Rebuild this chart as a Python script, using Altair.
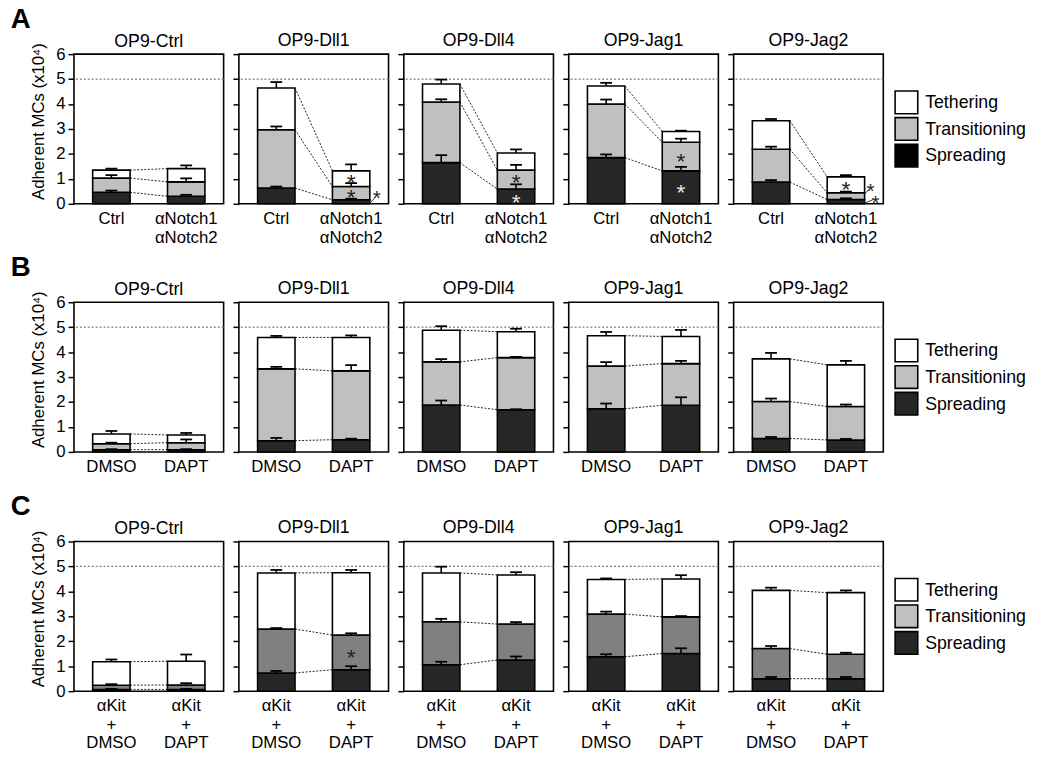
import altair as alt
import pandas as pd

FONT = "Liberation Sans"
PANELS = ["OP9-Ctrl", "OP9-Dll1", "OP9-Dll4", "OP9-Jag1", "OP9-Jag2"]
STAGES = ["Tethering", "Transitioning", "Spreading"]
Y_TITLE = "Adherent MCs (x10⁴)"
Y_TICKS = [0, 1, 2, 3, 4, 5, 6]
THRESHOLD = [5]

A_CONDS = ["Ctrl", "αNotch1|αNotch2"]
B_CONDS = ["DMSO", "DAPT"]
C_CONDS = ["αKit|+|DMSO", "αKit|+|DAPT"]

# cumulative segment tops (x10^4) per panel: [condition 1, condition 2]
A_SPREAD = [[0.46, 0.30], [0.63, 0.16], [1.65, 0.59], [1.85, 1.32], [0.87, 0.17]]
A_SPREAD_ERR = [[0.53, 0.36], [0.69, 0.20], [1.95, 0.78], [1.98, 1.48], [0.95, 0.22]]
A_TRANS = [[1.03, 0.88], [2.97, 0.69], [4.08, 1.35], [4.00, 2.47], [2.19, 0.44]]
A_TRANS_ERR = [[1.15, 1.02], [3.10, 0.83], [4.19, 1.56], [4.18, 2.61], [2.29, 0.49]]
A_TETHER = [[1.35, 1.41], [4.64, 1.32], [4.80, 2.04], [4.72, 2.90], [3.33, 1.08]]
A_TETHER_ERR = [[1.41, 1.54], [4.88, 1.58], [4.98, 2.18], [4.85, 2.93], [3.40, 1.15]]

B_SPREAD = [[0.09, 0.09], [0.45, 0.49], [1.88, 1.69], [1.73, 1.87], [0.54, 0.48]]
B_SPREAD_ERR = [[0.11, 0.11], [0.56, 0.53], [2.06, 1.71], [1.94, 2.19], [0.60, 0.52]]
B_TRANS = [[0.33, 0.37], [3.33, 3.25], [3.61, 3.78], [3.44, 3.54], [2.02, 1.82]]
B_TRANS_ERR = [[0.37, 0.50], [3.41, 3.48], [3.72, 3.81], [3.60, 3.65], [2.14, 1.90]]
B_TETHER = [[0.72, 0.68], [4.59, 4.59], [4.88, 4.82], [4.66, 4.63], [3.73, 3.49]]
B_TETHER_ERR = [[0.84, 0.76], [4.65, 4.67], [5.04, 4.94], [4.81, 4.89], [3.97, 3.65]]

C_SPREAD = [[0.07, 0.07], [0.73, 0.86], [1.06, 1.25], [1.38, 1.51], [0.50, 0.50]]
C_SPREAD_ERR = [[0.09, 0.09], [0.81, 1.00], [1.18, 1.39], [1.48, 1.72], [0.57, 0.57]]
C_TRANS = [[0.24, 0.25], [2.49, 2.25], [2.78, 2.69], [3.09, 2.98], [1.71, 1.48]]
C_TRANS_ERR = [[0.28, 0.32], [2.53, 2.32], [2.90, 2.77], [3.19, 3.01], [1.81, 1.54]]
C_TETHER = [[1.18, 1.20], [4.74, 4.75], [4.74, 4.66], [4.48, 4.50], [4.04, 3.95]]
C_TETHER_ERR = [[1.27, 1.47], [4.86, 4.86], [4.99, 4.77], [4.52, 4.65], [4.15, 4.04]]

# significance asterisks inside the second bar
A_STAR_PANEL = [1, 1, 2, 2, 3, 3, 4]
A_STAR_Y = [1.08, 0.47, 1.06, 0.27, 1.90, 0.65, 0.78]
A_STAR_SHADE = ["#222222", "#222222", "#222222", "#e8e8e8", "#222222", "#e8e8e8", "#222222"]
# asterisks outside the second bar, with leader lines
A_OUT_PANEL = [1, 4, 4]
A_OUT_Y = [0.42, 0.72, 0.22]
A_OUT_DX = [7, 6, 11]
A_LEAD_Y0 = [0.02, 0.39, 0.03]
A_LEAD_Y1 = [0.24, 0.56, 0.17]

C_STAR_PANEL = [1]
C_STAR_Y = [1.56]
C_STAR_SHADE = ["#222222"]

LEGEND_Y_RANGE = [49, 103]

ROWS = [
    dict(letter="A", conds=A_CONDS, spread=A_SPREAD, spread_err=A_SPREAD_ERR,
         trans=A_TRANS, trans_err=A_TRANS_ERR, tether=A_TETHER, tether_err=A_TETHER_ERR,
         bar_colors={"Spreading": "#262626", "Transitioning": "#c0c0c0", "Tethering": "#ffffff"},
         legend_colors=["#ffffff", "#c0c0c0", "#000000"],
         star_panel=A_STAR_PANEL, star_y=A_STAR_Y, star_shade=A_STAR_SHADE,
         out_panel=A_OUT_PANEL, out_y=A_OUT_Y, out_dx=A_OUT_DX, lead0=A_LEAD_Y0, lead1=A_LEAD_Y1,
         line_h=19),
    dict(letter="B", conds=B_CONDS, spread=B_SPREAD, spread_err=B_SPREAD_ERR,
         trans=B_TRANS, trans_err=B_TRANS_ERR, tether=B_TETHER, tether_err=B_TETHER_ERR,
         bar_colors={"Spreading": "#262626", "Transitioning": "#c0c0c0", "Tethering": "#ffffff"},
         legend_colors=["#ffffff", "#c0c0c0", "#262626"],
         star_panel=[], star_y=[], star_shade=[],
         out_panel=[], out_y=[], out_dx=[], lead0=[], lead1=[], line_h=19),
    dict(letter="C", conds=C_CONDS, spread=C_SPREAD, spread_err=C_SPREAD_ERR,
         trans=C_TRANS, trans_err=C_TRANS_ERR, tether=C_TETHER, tether_err=C_TETHER_ERR,
         bar_colors={"Spreading": "#262626", "Transitioning": "#808080", "Tethering": "#ffffff"},
         legend_colors=["#ffffff", "#c0c0c0", "#262626"],
         star_panel=C_STAR_PANEL, star_y=C_STAR_Y, star_shade=C_STAR_SHADE,
         out_panel=[], out_y=[], out_dx=[], lead0=[], lead1=[], line_h=18.5),
]

W = 152
H = 152


def make_panel(row, p):
    conds = row["conds"]
    first = p == 0
    seg_rows = []
    for c, cond in enumerate(conds):
        levels = [0, row["spread"][p][c], row["trans"][p][c], row["tether"][p][c]]
        errs = [row["spread_err"][p][c], row["trans_err"][p][c], row["tether_err"][p][c]]
        for k, stage in enumerate(["Spreading", "Transitioning", "Tethering"]):
            seg_rows.append(dict(cond=cond, stage=stage, y0=levels[k], y1=levels[k + 1],
                                 err=errs[k], fill=row["bar_colors"][stage]))
    seg = pd.DataFrame(seg_rows)
    con = pd.DataFrame({
        "c1": [conds[0]] * 3, "c2": [conds[1]] * 3,
        "v1": [row["spread"][p][0], row["trans"][p][0], row["tether"][p][0]],
        "v2": [row["spread"][p][1], row["trans"][p][1], row["tether"][p][1]],
    })

    xs = alt.Scale(domain=conds, paddingInner=0.5, paddingOuter=0.25)
    ys = alt.Scale(domain=[0, 6], nice=False)
    xa = alt.Axis(title=None, labelAngle=0, labelExpr="split(datum.label, '|')", ticks=False,
                  domain=False, labelPadding=7, labelFontSize=17, labelLineHeight=row["line_h"],
                  labelBaseline="top")
    if first:
        ya = alt.Axis(title=Y_TITLE, values=Y_TICKS, tickSize=6, tickWidth=1.5, labelFontSize=17,
                      labelPadding=3, titleFontSize=17, titleFontWeight="normal", titlePadding=8,
                      titleY=68, domain=False, grid=False)
    else:
        ya = alt.Axis(title=None, values=Y_TICKS, tickSize=6, tickWidth=1.5, labels=False,
                      domain=False, grid=False)

    def X(field, bp=None):
        if bp is None:
            return alt.X(f"{field}:N", scale=xs, axis=xa)
        return alt.X(f"{field}:N", scale=xs, axis=xa, bandPosition=bp)

    def Y(field):
        return alt.Y(f"{field}:Q", scale=ys, axis=ya)

    layers = []
    layers.append(alt.Chart(pd.DataFrame({"v": THRESHOLD})).mark_rule(
        strokeDash=[2, 2], color="#7a7a7a", strokeWidth=1.3).encode(y=Y("v")))
    layers.append(alt.Chart(con).mark_rule(strokeDash=[2, 1.6], color="#222222", strokeWidth=1).encode(
        x=X("c1", 1), x2=alt.X2(field="c2", bandPosition=0), y=Y("v1"), y2=alt.Y2(field="v2")))
    layers.append(alt.Chart(seg).mark_bar(stroke="black", strokeWidth=1.6).encode(
        x=X("cond"), y=Y("y0"), y2=alt.Y2(field="y1"), fill=alt.Fill("fill:N", scale=None)))
    layers.append(alt.Chart(seg).mark_rule(color="black", strokeWidth=1.6).encode(
        x=X("cond"), y=Y("y1"), y2=alt.Y2(field="err")))
    layers.append(alt.Chart(seg).mark_tick(color="black", size=12, thickness=1.8, opacity=1).encode(
        x=X("cond"), y=Y("err")))

    sy = [y for pp, y in zip(row["star_panel"], row["star_y"]) if pp == p]
    sc = [s for pp, s in zip(row["star_panel"], row["star_shade"]) if pp == p]
    if sy:
        sdf = pd.DataFrame({"cond": [conds[1]] * len(sy), "y": sy, "shade": sc})
        layers.append(alt.Chart(sdf).mark_text(text="*", fontSize=23, baseline="middle", dy=6).encode(
            x=X("cond"), y=Y("y"), color=alt.Color("shade:N", scale=None)))
    for pp, oy, odx, l0, l1 in zip(row["out_panel"], row["out_y"], row["out_dx"], row["lead0"], row["lead1"]):
        if pp != p:
            continue
        odf = pd.DataFrame({"cond": [conds[1]], "y": [oy], "l0": [l0], "l1": [l1]})
        layers.append(alt.Chart(odf).mark_rule(color="#333333", strokeWidth=1, x2Offset=odx - 2).encode(
            x=X("cond", 1), x2=alt.X2(field="cond", bandPosition=1), y=Y("l0"), y2=alt.Y2(field="l1")))
        layers.append(alt.Chart(odf).mark_text(text="*", fontSize=21, baseline="middle", dy=6, dx=odx,
                                              color="#222222").encode(x=X("cond", 1), y=Y("y")))

    title = alt.TitleParams(PANELS[p], dy=12) if first else alt.TitleParams(PANELS[p])
    return alt.layer(*layers).properties(width=W, height=H, title=title)


def make_legend(colors):
    df = pd.DataFrame({"stage": STAGES, "col": colors})
    y = alt.Y("stage:N", scale=alt.Scale(type="point", domain=STAGES, range=LEGEND_Y_RANGE, padding=0),
              axis=None)
    sq = alt.Chart(df).mark_square(size=23 * 23, stroke="black", strokeWidth=1.6, opacity=1).encode(
        x=alt.value(14), y=y, fill=alt.Fill("col:N", scale=None))
    tx = alt.Chart(df).mark_text(align="left", baseline="middle", fontSize=18, dy=1).encode(
        x=alt.value(33), y=y, text="stage:N")
    return alt.layer(sq, tx).properties(width=138, height=H, view=alt.ViewBackground(stroke="transparent"))


rows = []
for row in ROWS:
    panels = [make_panel(row, p) for p in range(len(PANELS))]
    rows.append(alt.hconcat(*panels, make_legend(row["legend_colors"]), spacing=5.5,
                            title=alt.TitleParams(row["letter"], anchor="start", fontSize=28,
                                                  fontWeight="bold", dx=-19, offset=-3)))

chart = alt.vconcat(alt.vconcat(rows[0], rows[1], spacing=8), rows[2], spacing=18).properties(
    padding={"left": 2, "top": -8, "right": 0, "bottom": 0}
).configure(font=FONT).configure_view(stroke="black", strokeWidth=1.6).configure_axis(
    labelColor="black", titleColor="black", tickColor="black", labelFont=FONT, titleFont=FONT
).configure_title(font=FONT, fontSize=18, fontWeight="normal", color="black", offset=0).configure_text(
    font=FONT, color="black")

chart.save("out.html", embed_options={"renderer": "svg", "actions": False})
